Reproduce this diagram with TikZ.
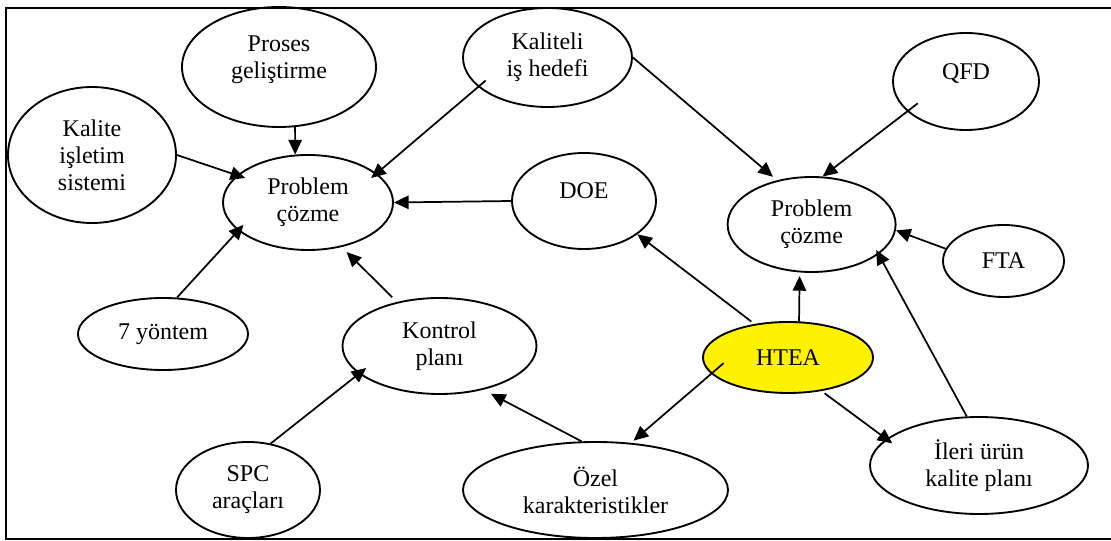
\documentclass[tikz,border=0pt]{standalone}
\usepackage{fontspec}
\setmainfont{Liberation Serif}
\usetikzlibrary{shapes.geometric,arrows.meta}

\begin{document}
\begin{tikzpicture}[x=0.75pt,y=0.75pt,yscale=-1,xscale=1,
	bub/.style={draw, ellipse, line width=1.4pt, inner sep=0pt, align=center, font=\fontsize{18}{20.25}\selectfont},
	arr/.style={line width=1.3pt, -{Triangle[length=11pt,width=10pt]}}]
	%set diagram size to 1111 x 541
	\useasboundingbox (0,0) rectangle (1111,541);
	
	%Frame (right side cut off)
	\draw [line width=1.6pt]  (1111,8) -- (6,8) -- (6,539) -- (1111,539) ;
	
	%Shape: Ellipse
	\draw (279,67) node [bub, minimum width=145.5pt, minimum height=90pt, text depth=14.4pt] (proses) {Proses\\geliştirme};
	%Shape: Ellipse
	\draw (547.5,57.5) node [bub, minimum width=126.75pt, minimum height=74.25pt] (kaliteli) {Kaliteli\\iş hedefi};
	%Shape: Ellipse
	\draw (92,155) node [bub, minimum width=126pt, minimum height=102pt] (sistem) {Kalite\\işletim\\sistemi};
	%Shape: Ellipse
	\draw (308,202.5) node [bub, minimum width=127.5pt, minimum height=71.25pt] (probL) {Problem\\çözme};
	%Shape: Ellipse
	\draw (584,201) node [bub, minimum width=108pt, minimum height=72pt, text depth=15pt] (doe) {DOE};
	%Shape: Ellipse
	\draw (966,81.5) node [bub, minimum width=109.5pt, minimum height=72.75pt, text depth=15pt] (qfd) {QFD};
	%Shape: Ellipse
	\draw (811.6,224.5) node [bub, minimum width=126pt, minimum height=71.25pt] (probR) {Problem\\çözme};
	%Shape: Ellipse
	\draw (1003.5,261) node [bub, minimum width=90.75pt, minimum height=54pt] (fta) {FTA};
	%Shape: Ellipse
	\draw (163,334) node [bub, minimum width=127.5pt, minimum height=54pt] (yontem) {7 yöntem};
	%Shape: Ellipse
	\draw (439.5,346) node [bub, minimum width=145.5pt, minimum height=72pt] (kontrol) {Kontrol\\planı};
	%Shape: Ellipse
	\draw (248,490) node [bub, minimum width=108pt, minimum height=72pt] (spc) {SPC\\araçları};
	%Shape: Ellipse
	\draw (595.5,490) node [bub, minimum width=198.75pt, minimum height=72pt] (ozel) {Özel\\karakteristikler};
	%Shape: Ellipse
	\draw (788,357.5) node [bub, fill=yellow, minimum width=127.5pt, minimum height=53.25pt] (htea) {HTEA};
	%Shape: Ellipse
	\draw (979,465.5) node [bub, minimum width=163.5pt, minimum height=72.75pt] (ileri) {İleri ürün\\kalite planı};
	
	%Straight Lines (into left Problem çözme)
	\draw [arr]  (proses.285) -- (probL.105) ;
	\draw [arr, shorten >=-6.5pt]  (sistem.east) -- (probL.159) ;
	\draw [arr, shorten <=-7.4pt, shorten >=-5.4pt]  (kaliteli.203) -- (probL.23) ;
	\draw [arr]  (doe.west) -- (probL.east) ;
	\draw [arr, shorten >=-6pt]  (yontem.69) -- (probL.202) ;
	\draw [arr, shorten <=5pt, shorten >=5.3pt]  (kontrol.134) -- (probL.307) ;
	
	%Straight Lines (into Kontrol planı)
	\draw [arr, shorten >=-7pt]  (spc.64) -- (kontrol.199) ;
	\draw [arr, shorten >=6.4pt]  (ozel.106) -- (kontrol.315) ;
	
	%Straight Lines (out of HTEA)
	\draw [arr, shorten <=-12.3pt, shorten >=2.5pt]  (htea.192) -- (ozel.53) ;
	\draw [arr, shorten <=2.8pt, shorten >=-5.6pt]  (htea.315) -- (ileri.164) ;
	\draw [arr, shorten >=2.7pt]  (htea.73) -- (probR.256) ;
	\draw [arr, shorten <=3pt]  (htea.135) -- (doe.328) ;
	
	%Straight Lines (into right Problem çözme)
	\draw [arr, shorten >=-3.7pt]  (ileri.104) -- (probR.336) ;
	\draw [arr]  (fta.168) -- (probR.356) ;
	\draw [arr, shorten <=-10pt]  (qfd.207) -- (probR.77) ;
	\draw [arr, shorten >=4pt]  (kaliteli.east) -- (probR.128) ;
	
\end{tikzpicture}
\end{document}
